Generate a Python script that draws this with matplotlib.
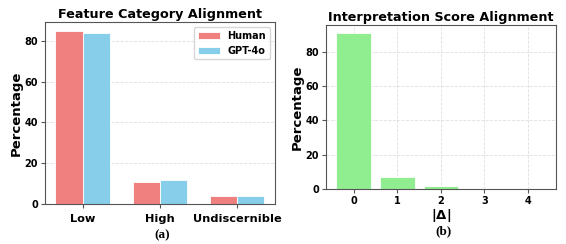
import matplotlib.pyplot as plt
import numpy as np

# data
categories = ["Low", "High", "Undiscernible"]
human = [85, 11, 4]
gpt4o = [84, 12, 4]

deltas = ["0", "1", "2", "3", "4"]
delta_pct = [91, 7, 2, 0, 0]

fig = plt.figure(figsize=(5.66, 2.44), dpi=100)
ax1 = fig.add_axes([0.0795, 0.164, 0.406, 0.746])
ax2 = fig.add_axes([0.576, 0.2254, 0.406, 0.672])

# (a) feature category alignment
x = np.arange(len(categories))
w = 0.35
ax1.bar(x - w / 2, human, w, color="lightcoral", edgecolor="white", linewidth=0.6, label="Human")
ax1.bar(x + w / 2, gpt4o, w, color="skyblue", edgecolor="white", linewidth=0.6, label="GPT-4o")
ax1.set_xticks(x)
ax1.set_xticklabels(categories)
ax1.set_ylabel("Percentage", fontsize=9.5, fontweight="bold", labelpad=1.5)
ax1.set_title("Feature Category Alignment", fontsize=9.2, fontweight="bold", pad=3)
ax1.set_yticks([0, 20, 40, 60, 80])
ax1.grid(axis="y", linestyle="--", alpha=0.4, linewidth=0.6)
ax1.set_axisbelow(True)
leg = ax1.legend(loc="upper right", prop={"weight": "bold", "size": 7}, handlelength=2.2)

# (b) interpretation score alignment
xd = np.arange(len(deltas))
ax2.bar(xd, delta_pct, 0.8, color="lightgreen", edgecolor="white", linewidth=0.6)
ax2.set_xticks(xd)
ax2.set_xticklabels(deltas)
ax2.set_xlabel(r"$\mathbf{|\Delta|}$", fontsize=9.5, labelpad=1)
ax2.set_ylabel("Percentage", fontsize=9.5, fontweight="bold", labelpad=1.5)
ax2.set_title("Interpretation Score Alignment", fontsize=9.2, fontweight="bold", pad=3)
ax2.set_yticks([0, 20, 40, 60, 80])
ax2.grid(True, linestyle="--", alpha=0.4, linewidth=0.6)
ax2.set_axisbelow(True)

for ax in (ax1, ax2):
    for s in ax.spines.values():
        s.set_color("#555555")
    ax.tick_params(labelsize=7, length=3, pad=2, color="#555555")
    for t in ax.get_yticklabels() + ax.get_xticklabels():
        t.set_fontweight("bold")
ax1.tick_params(axis="x", labelsize=8.2, pad=4)

fig.text(0.286, 0.037, "(a)", family="Liberation Serif", fontweight="bold", fontsize=9.5, ha="center", va="center")
fig.text(0.783, 0.053, "(b)", family="Liberation Serif", fontweight="bold", fontsize=9.5, ha="center", va="center")

fig.savefig("out.png", dpi=100)
